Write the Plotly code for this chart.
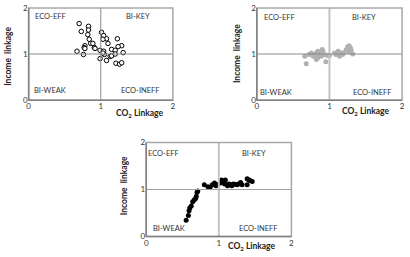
import plotly.graph_objects as go

# Panel 1 (open circles)
p1_x = [0.70, 0.83, 0.83, 0.73, 0.82, 1.01, 1.04, 1.08, 0.84, 1.03, 1.23, 0.86, 1.10, 0.89,
        0.78, 1.29, 0.77, 0.91, 0.92, 1.15, 1.24, 0.67, 0.99, 1.04, 1.20, 0.76, 1.05, 1.13,
        1.15, 1.20, 1.31, 0.99, 1.08, 1.21, 1.26, 1.29, 1.03, 0.78]
p1_y = [1.66, 1.60, 1.52, 1.49, 1.42, 1.47, 1.40, 1.33, 1.32, 1.32, 1.33, 1.23, 1.23, 1.23,
        1.18, 1.18, 1.14, 1.14, 1.12, 1.10, 1.16, 1.06, 1.08, 1.06, 1.08, 0.99, 0.99, 0.95,
        0.96, 1.00, 1.03, 0.90, 0.86, 0.80, 0.78, 0.81, 1.02, 1.12]

# Panel 2 (grey dots)
p2_x = [0.68, 0.66, 0.72, 0.75, 0.78, 0.82, 0.82, 0.84, 0.87, 0.89, 0.91, 0.90, 0.93, 0.95,
        0.97, 0.84, 0.80, 1.07, 1.09, 1.12, 1.14, 1.16, 1.18, 1.23, 1.25, 1.27, 1.29, 1.30,
        1.32, 1.27, 1.20, 0.77, 0.86, 1.00]
p2_y = [0.79, 0.95, 0.99, 1.02, 0.95, 0.88, 1.02, 1.06, 0.99, 0.95, 1.06, 1.10, 0.99, 0.83,
        0.97, 0.92, 0.95, 1.02, 0.99, 1.06, 0.95, 1.02, 0.99, 1.09, 1.16, 1.18, 1.13, 1.08,
        1.00, 1.05, 1.03, 0.98, 1.03, 0.97]

# Panel 3 (black dots)
p3_x = [0.55, 0.58, 0.59, 0.60, 0.62, 0.64, 0.66, 0.68, 0.69, 0.70, 0.71, 0.80, 0.85, 0.88,
        0.91, 0.94, 0.96, 0.98, 1.04, 1.07, 1.09, 1.08, 1.12, 1.14, 1.16, 1.18, 1.20, 1.22,
        1.25, 1.27, 1.30, 1.32, 1.39, 1.41, 1.43, 1.46, 1.39, 1.02, 1.05]
p3_y = [0.35, 0.45, 0.55, 0.61, 0.65, 0.74, 0.78, 0.81, 0.86, 0.94, 0.97, 1.10, 1.06, 1.05,
        1.10, 1.14, 1.08, 1.10, 1.20, 1.16, 1.20, 1.12, 1.08, 1.12, 1.10, 1.08, 1.12, 1.11,
        1.10, 1.12, 1.15, 1.10, 1.23, 1.21, 1.19, 1.17, 1.10, 1.14, 1.16]

quad_labels = ["ECO-EFF", "BI-KEY", "BI-WEAK", "ECO-INEFF"]
x_title = "<b>CO<sub>2</sub> Linkage</b>"
y_title = "<b>Income  linkage</b>"
tick_vals = [0, 1, 2]
tick_text = ["0", "1", "2"]

W, H = 410, 257
FONT = "Lato"

fig = go.Figure()
fig.add_trace(go.Scatter(x=p1_x, y=p1_y, mode="markers", xaxis="x", yaxis="y",
                         marker=dict(size=4.5, color="white", line=dict(color="black", width=1))))
fig.add_trace(go.Scatter(x=p2_x, y=p2_y, mode="markers", xaxis="x2", yaxis="y2",
                         marker=dict(size=5, color="#b0b0b0", line=dict(width=0))))
fig.add_trace(go.Scatter(x=p3_x, y=p3_y, mode="markers", xaxis="x3", yaxis="y3",
                         marker=dict(size=5, color="black", line=dict(width=0))))

def px2x(p):
    return p / W

def py2y(p):
    return 1 - p / H

panels = [
    # (x0px, x1px, ytop, ybot)
    (27, 173, 3, 99),
    (258, 405, 3, 99),
    (146, 293, 143, 241),
]

axis_common = dict(range=[0, 2], tickvals=tick_vals, ticktext=tick_text, showgrid=False,
                   zeroline=False, showline=False, ticks="", fixedrange=True,
                   tickfont=dict(family=FONT, size=8, color="#333"))
layout_axes = {}
for i, (x0, x1, yt, yb) in enumerate(panels):
    sfx = "" if i == 0 else str(i + 1)
    layout_axes["xaxis" + sfx] = dict(axis_common, domain=[px2x(x0), px2x(x1)],
                                      anchor="y" + sfx)
    layout_axes["yaxis" + sfx] = dict(axis_common, domain=[py2y(yb), py2y(yt)],
                                      anchor="x" + sfx)

shapes = []
ref_styles = [
    ("#8a8a8a", 1, "#8a8a8a", 1),
    ("#c4c4c4", 2, "#8a8a8a", 1),
    ("#c4c4c4", 2, "#a0a0a0", 1),
]
for i in range(3):
    sfx = "" if i == 0 else str(i + 1)
    xr, yr = "x" + sfx, "y" + sfx
    vcol, vw, hcol, hw = ref_styles[i]
    shapes.append(dict(type="line", xref=xr, yref=yr + " domain", x0=1, x1=1, y0=0, y1=1,
                       line=dict(color=vcol, width=vw)))
    shapes.append(dict(type="line", xref=xr + " domain", yref=yr, x0=0, x1=1, y0=1, y1=1,
                       line=dict(color=hcol, width=hw)))
    shapes.append(dict(type="rect", xref=xr + " domain", yref=yr + " domain", x0=0, x1=1,
                       y0=0, y1=1, line=dict(color="#a8a8a8", width=1.5)))
    shapes.append(dict(type="line", xref=xr + " domain", yref=yr + " domain", x0=0, x1=0,
                       y0=0, y1=1, line=dict(color="#808080", width=1.5)))
    shapes.append(dict(type="line", xref=xr + " domain", yref=yr + " domain", x0=0, x1=1,
                       y0=0, y1=0, line=dict(color="#808080", width=1.5)))

quad_pos = [
    [(0.30, 1.81), (1.51, 1.81), (0.30, 0.21), (1.55, 0.21)],
    [(0.31, 1.79), (1.48, 1.79), (0.27, 0.17), (1.59, 0.17)],
    [(0.24, 1.76), (1.48, 1.76), (0.31, 0.18), (1.55, 0.18)],
]
annotations = []
for i in range(3):
    sfx = "" if i == 0 else str(i + 1)
    for lab, (qx, qy) in zip(quad_labels, quad_pos[i]):
        annotations.append(dict(text=lab, x=qx, y=qy, xref="x" + sfx, yref="y" + sfx,
                                xanchor="center", yanchor="middle",
                                showarrow=False, font=dict(family=FONT, size=7.5, color="#333")))

xt_pos = [(140, 113), (368, 111), (253, 251)]
yt_pos = [(6, 53), (238, 51), (123, 188)]
for (xx, yy) in xt_pos:
    annotations.append(dict(text=x_title, x=px2x(xx), y=py2y(yy), xref="paper", yref="paper",
                            xanchor="center", yanchor="middle",
                            showarrow=False, font=dict(family=FONT, size=8.5, color="#222")))
for (xx, yy) in yt_pos:
    annotations.append(dict(text=y_title, x=px2x(xx), y=py2y(yy), xref="paper", yref="paper",
                            xanchor="center", yanchor="middle",
                            showarrow=False, textangle=-90,
                            font=dict(family=FONT, size=8.5, color="#222")))

fig.update_layout(width=W, height=H, margin=dict(l=0, r=0, t=0, b=0), showlegend=False,
                  paper_bgcolor="white", plot_bgcolor="white", shapes=shapes,
                  annotations=annotations, **layout_axes)

fig.write_html("out.html")
